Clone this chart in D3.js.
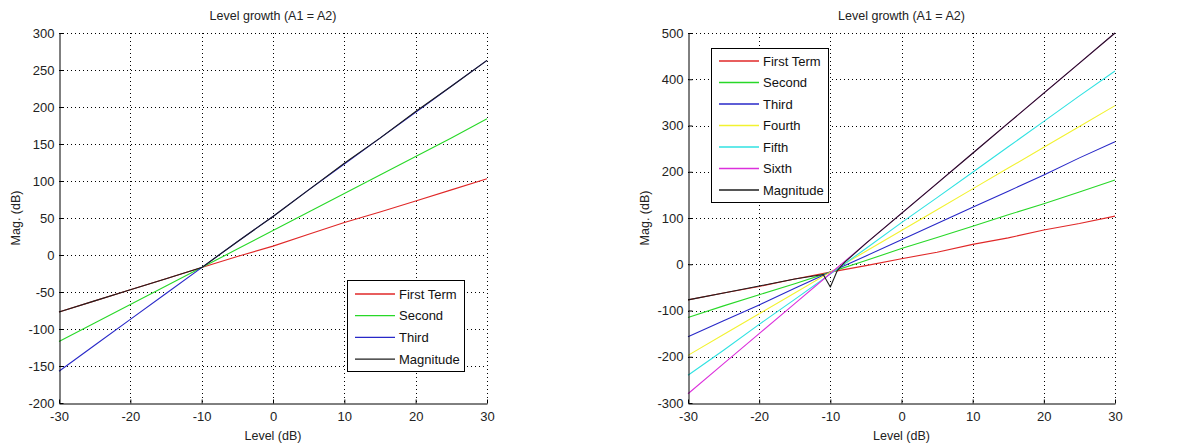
<!DOCTYPE html>
<html>
<head>
<meta charset="utf-8">
<script src="https://cdn.jsdelivr.net/npm/d3@7"></script>
<style>
  body { margin: 0; background: #fff; }
  svg { display: block; font-family: "Liberation Sans", Arial, sans-serif; }
</style>
</head>
<body>
<svg id="chart" width="1202" height="444"></svg>
<script>
// ---------- data ----------
const levels = [-30, -25, -20, -15, -10, -5, 0, 5, 10, 15, 20, 25, 30];

// left panel
const leftFirst  = [-77, -62, -47, -32, -17, -2, 12, 28, 44, 58, 73, 88, 103];
const leftSecond = [-117, -92, -67, -42, -17, 8, 33, 58, 83, 108, 133, 158, 184];
const leftThird  = [-157, -122, -87, -52, -17, 18, 52, 88, 123, 158, 193, 228, 263];
const leftMagLevels = [-30, -25, -20, -15, -12, -10, -8, -5, 0, 5, 10, 15, 20, 25, 30];
const leftMag    = [-77, -62, -47, -32, -23, -17, -3, 18, 52, 88, 124, 158, 194, 228, 263];

// right panel
const rightFirst  = [-77, -62, -48, -32, -17, -3, 12, 26, 43, 57, 74, 88, 104];
const rightSecond = [-115, -90, -66, -42, -17, 8, 34, 58, 82, 107, 131, 156, 182];
const rightThird  = [-157, -122, -88, -52, -17, 18, 53, 88, 123, 158, 193, 230, 265];
const rightFourth = [-197, -152, -107, -62, -17, 28, 73, 118, 163, 208, 253, 298, 343];
const rightFifth  = [-240, -186, -130, -76, -21, 34, 90, 144, 199, 254, 309, 364, 418];
const rightSixth  = [-280, -215, -150, -85, -20, 45, 110, 175, 240, 305, 370, 435, 500];
const rightMagLevels = [-30, -25, -20, -15, -11, -10, -9, -8, -5, 0, 5, 10, 15, 20, 25, 30];
const rightMag    = [-77, -62, -47, -32, -22, -49, -13, 4, 45, 110, 175, 240, 305, 370, 435, 500];

const xTicks = [-30, -20, -10, 0, 10, 20, 30];
const leftYTicks  = [-200, -150, -100, -50, 0, 50, 100, 150, 200, 250, 300];
const rightYTicks = [-300, -200, -100, 0, 100, 200, 300, 400, 500];

const leftNames  = ["First Term", "Second", "Third", "Magnitude"];
const rightNames = ["First Term", "Second", "Third", "Fourth", "Fifth", "Sixth", "Magnitude"];

const titleText = "Level growth (A1 = A2)";
const xLabelText = "Level (dB)";
const yLabelText = "Mag. (dB)";

// ---------- styles ----------
const colors = {
  "First Term": "#e02828",
  "Second": "#28d828",
  "Third": "#2828c8",
  "Fourth": "#f2f230",
  "Fifth": "#30e2e2",
  "Sixth": "#dc30dc",
  "Magnitude": "#1e1e1e"
};

const svg = d3.select("#chart");
const fmt = d => String(d);

function panel(cfg) {
  const x = d3.scaleLinear().domain([-30, 30]).range([cfg.x0, cfg.x1]);
  const y = d3.scaleLinear().domain(cfg.yDomain).range([403, 33]);
  const g = svg.append("g");

  // grid
  g.append("g").selectAll("line").data(xTicks.filter(d => d !== -30)).join("line")
    .attr("x1", d => Math.round(x(d)) + 0.5).attr("x2", d => Math.round(x(d)) + 0.5)
    .attr("y1", y.range()[1]).attr("y2", y.range()[0])
    .attr("stroke", "#000").attr("stroke-width", 1).attr("stroke-dasharray", "1,3");
  g.append("g").selectAll("line").data(cfg.yTicks.filter(d => d !== cfg.yDomain[0])).join("line")
    .attr("y1", d => Math.round(y(d)) + 0.5).attr("y2", d => Math.round(y(d)) + 0.5)
    .attr("x1", x.range()[0]).attr("x2", x.range()[1])
    .attr("stroke", "#000").attr("stroke-width", 1).attr("stroke-dasharray", "1,3");

  // series
  const line = d3.line().x(d => x(d[0])).y(d => y(d[1]));
  cfg.series.forEach(s => {
    g.append("path")
      .datum(s.xs.map((v, i) => [v, s.ys[i]]))
      .attr("d", line)
      .attr("fill", "none")
      .attr("stroke", colors[s.name])
      .attr("stroke-width", 1.1)
      .attr("stroke-linejoin", "round");
  });

  // axes
  const ax = g.append("g").attr("transform", `translate(0,${Math.round(y.range()[0]) + 0.5})`)
    .call(d3.axisBottom(x).tickValues(xTicks).tickSizeInner(-4).tickSizeOuter(0).tickPadding(8).tickFormat(fmt));
  const ay = g.append("g").attr("transform", `translate(${Math.round(x.range()[0]) + 0.5},0)`)
    .call(d3.axisLeft(y).tickValues(cfg.yTicks).tickSizeInner(-4).tickSizeOuter(0).tickPadding(5).tickFormat(fmt));
  [ax, ay].forEach(a => {
    a.select(".domain").attr("stroke", "#000");
    a.selectAll(".tick line").attr("stroke", "#000");
    a.selectAll(".tick text").attr("font-size", 13).attr("fill", "#222")
      .attr("font-family", "'Liberation Sans', Arial, sans-serif");
  });

  // texts
  const cx = (x.range()[0] + x.range()[1]) / 2;
  g.append("text").attr("x", cx).attr("y", 20).attr("text-anchor", "middle")
    .attr("font-size", 12.5).attr("fill", "#222").text(titleText);
  g.append("text").attr("x", cx).attr("y", 440).attr("text-anchor", "middle")
    .attr("font-size", 12.5).attr("fill", "#222").text(xLabelText);
  g.append("text").attr("transform", `translate(${cfg.yLabelX},218) rotate(-90)`)
    .attr("text-anchor", "middle").attr("dy", "0.35em")
    .attr("font-size", 12.5).attr("fill", "#222").text(yLabelText);

  // legend
  const L = cfg.legend;
  const lg = g.append("g");
  lg.append("rect").attr("x", L.x + 0.5).attr("y", L.y + 0.5).attr("width", L.w).attr("height", L.h)
    .attr("fill", "#fff").attr("stroke", "#000").attr("stroke-width", 1);
  cfg.names.forEach((n, i) => {
    const yy = L.y + L.first + i * L.step;
    lg.append("line").attr("x1", L.x + 8).attr("x2", L.x + 48).attr("y1", yy).attr("y2", yy)
      .attr("stroke", colors[n]).attr("stroke-width", 1.3);
    lg.append("text").attr("x", L.x + 52).attr("y", yy).attr("dy", "0.36em")
      .attr("font-size", 13).attr("fill", "#111").text(n);
  });
}

panel({
  x0: 59, x1: 487, yDomain: [-200, 300], yTicks: leftYTicks, yLabelX: 16,
  names: leftNames,
  series: [
    { name: "First Term", xs: levels, ys: leftFirst },
    { name: "Second", xs: levels, ys: leftSecond },
    { name: "Third", xs: levels, ys: leftThird },
    { name: "Magnitude", xs: leftMagLevels, ys: leftMag }
  ],
  legend: { x: 347, y: 280, w: 117, h: 91, first: 14, step: 21.7 }
});

panel({
  x0: 688, x1: 1115, yDomain: [-300, 500], yTicks: rightYTicks, yLabelX: 645,
  names: rightNames,
  series: [
    { name: "First Term", xs: levels, ys: rightFirst },
    { name: "Second", xs: levels, ys: rightSecond },
    { name: "Third", xs: levels, ys: rightThird },
    { name: "Fourth", xs: levels, ys: rightFourth },
    { name: "Fifth", xs: levels, ys: rightFifth },
    { name: "Sixth", xs: levels, ys: rightSixth },
    { name: "Magnitude", xs: rightMagLevels, ys: rightMag }
  ],
  legend: { x: 711, y: 48, w: 117, h: 154, first: 13, step: 21.5 }
});
</script>
</body>
</html>
